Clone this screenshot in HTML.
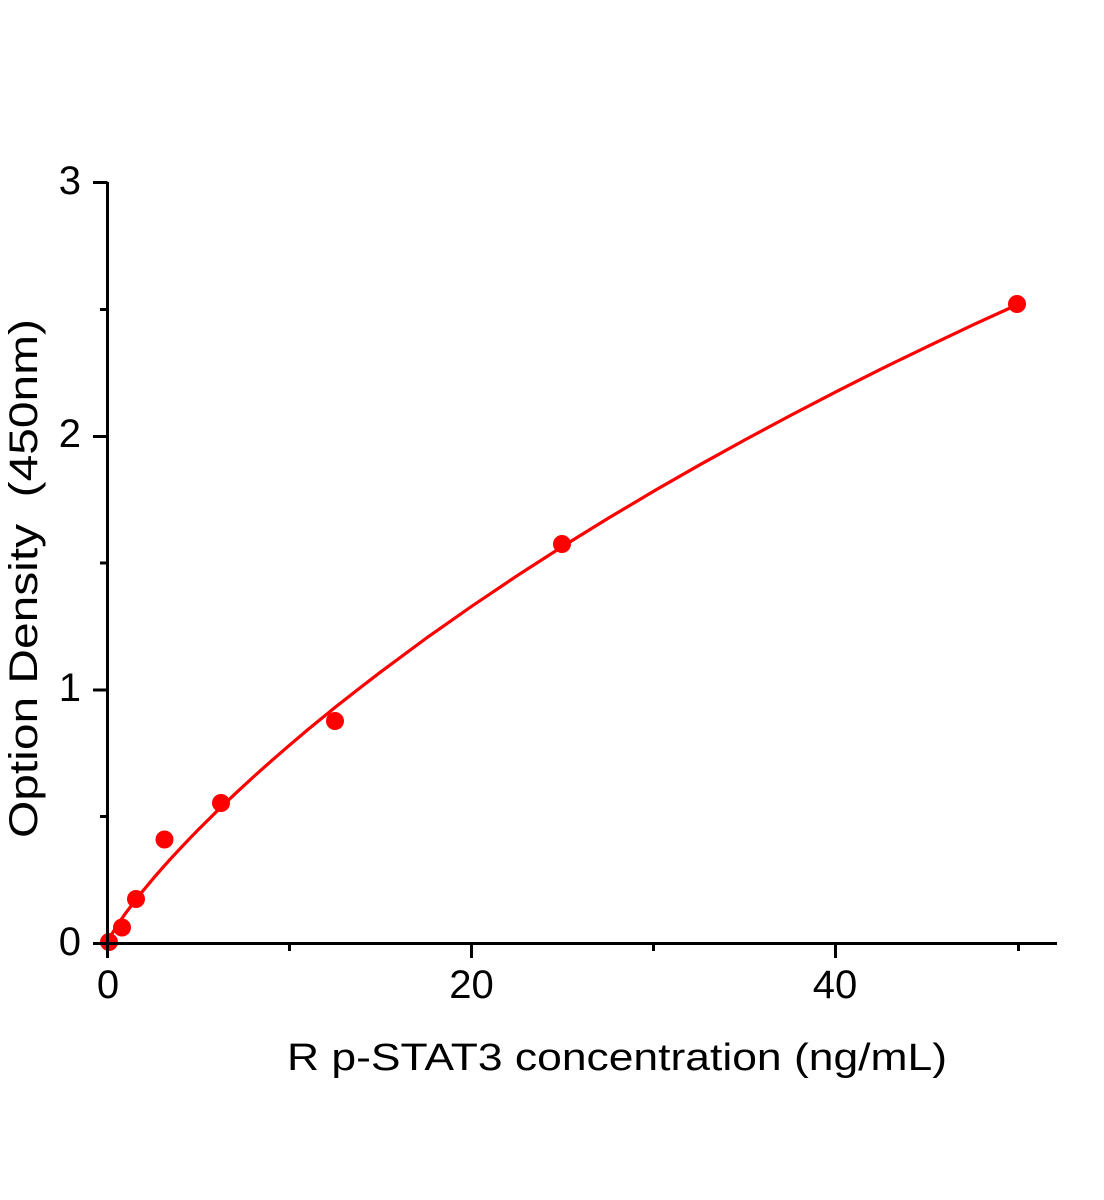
<!DOCTYPE html>
<html>
<head>
<meta charset="utf-8">
<style>
  html, body { margin: 0; padding: 0; background: #ffffff; }
  svg { display: block; }
  text { font-family: "Liberation Sans", "DejaVu Sans", sans-serif; fill: #000; }
</style>
</head>
<body>
<svg width="1104" height="1200" viewBox="0 0 1104 1200" xmlns="http://www.w3.org/2000/svg">
  <rect x="0" y="0" width="1104" height="1200" fill="#ffffff"/>

  <!-- origin point (under axes) -->
  <circle cx="109" cy="942" r="9" fill="#ff0000"/>

  <!-- fitted curve -->
  <polyline fill="none" stroke="#ff0000" stroke-width="3.2" stroke-linejoin="round" stroke-linecap="round"
    points="107.5,943 109.3,938.7 112.1,933.7 116.6,926.3 121.2,919.5 125.7,913.1 130.3,907.0 134.8,901.0 139.4,895.2 144.0,889.6 153.1,878.7 162.2,868.2 171.3,858.1 180.4,848.3 189.5,838.7 198.7,829.3 207.8,820.2 216.9,811.2 235.1,793.8 253.3,777.0 271.6,760.7 289.8,744.9 308.0,729.5 335.4,707.1 358.2,689.2 381.0,671.7 426.5,638.0 472.1,606.0 517.7,575.3 563.3,546.0 608.8,517.9 654.4,490.8 700.0,464.7 745.6,439.5 791.1,415.1 836.7,391.4 882.3,368.4 927.9,346.3 973.4,324.7 1019,303.9"/>

  <!-- data points -->
  <g fill="#ff0000">
    <circle cx="122" cy="927.5" r="9"/>
    <circle cx="136" cy="899" r="9"/>
    <circle cx="164.5" cy="839.5" r="9"/>
    <circle cx="221" cy="803" r="9"/>
    <circle cx="335" cy="721" r="9"/>
    <circle cx="562" cy="544" r="9"/>
    <circle cx="1017" cy="304" r="9"/>
  </g>

  <!-- axes -->
  <g stroke="#000" stroke-width="3" fill="none">
    <line x1="107.5" y1="182" x2="107.5" y2="958"/>
    <line x1="93" y1="943.5" x2="1057" y2="943.5"/>
    <!-- y major ticks -->
    <line x1="93" y1="182.5" x2="107.5" y2="182.5"/>
    <line x1="93" y1="436.5" x2="107.5" y2="436.5"/>
    <line x1="93" y1="690" x2="107.5" y2="690"/>
    <!-- y minor ticks -->
    <line x1="100" y1="309.5" x2="107.5" y2="309.5"/>
    <line x1="100" y1="563" x2="107.5" y2="563"/>
    <line x1="100" y1="816.5" x2="107.5" y2="816.5"/>
    <!-- x major ticks -->
    <line x1="471.5" y1="943.5" x2="471.5" y2="958"/>
    <line x1="835.5" y1="943.5" x2="835.5" y2="958"/>
    <!-- x minor ticks -->
    <line x1="289.5" y1="943.5" x2="289.5" y2="951"/>
    <line x1="653.5" y1="943.5" x2="653.5" y2="951"/>
    <line x1="1018.5" y1="943.5" x2="1018.5" y2="951"/>
  </g>

  <!-- y tick labels -->
  <g font-size="40" text-anchor="end">
    <text x="81" y="194">3</text>
    <text x="81" y="447">2</text>
    <text x="81" y="701">1</text>
    <text x="81" y="955">0</text>
  </g>

  <!-- x tick labels -->
  <g font-size="40" text-anchor="middle">
    <text x="108" y="998">0</text>
    <text x="471.5" y="998">20</text>
    <text x="835" y="998">40</text>
  </g>

  <!-- x axis title -->
  <text x="287" y="1070" font-size="38" textLength="660" lengthAdjust="spacingAndGlyphs">R p-STAT3 concentration (ng/mL)</text>

  <!-- y axis title -->
  <text transform="translate(37,838) rotate(-90)" x="0" y="0" font-size="40" textLength="519" lengthAdjust="spacingAndGlyphs" xml:space="preserve">Option Density  (450nm)</text>
</svg>
</body>
</html>
